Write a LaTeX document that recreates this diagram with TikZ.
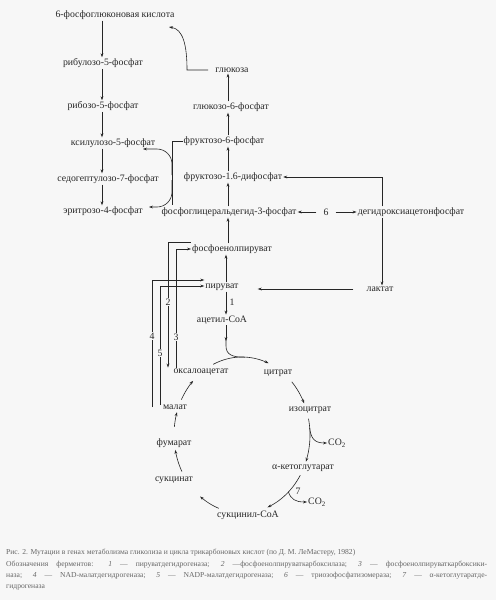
\documentclass[tikz,border=0pt]{standalone}
\usepackage{fontspec}
\setmainfont{Liberation Serif}
\usetikzlibrary{arrows.meta,calc}
\definecolor{ink}{HTML}{262626}
\definecolor{paper}{HTML}{F7F7F7}
\definecolor{capink}{HTML}{666666}
\begin{document}
\begin{tikzpicture}[x=1pt,y=-1pt,
  lbl/.style={font=\fontsize{9.8}{11}\selectfont, text=ink, inner sep=1pt},
  con/.style={draw=ink, line width=0.6pt},
  arr/.style={con, -{Stealth[length=4pt,width=2.8pt]}},
  num/.style={font=\fontsize{9.8}{11}\selectfont, text=ink, fill=paper, inner sep=0.6pt},
  captxt/.style={font=\fontsize{7.6}{9}\selectfont, text=capink, anchor=west, inner sep=0pt}]
\fill[paper] (0,0) rectangle (496,600);
\useasboundingbox (0,0) rectangle (496,600);
% column coordinates
\coordinate (cA) at (102,0);
\coordinate (cB) at (228,0);
\coordinate (cC) at (226,0);
\coordinate (cD) at (382,0);
% pentose phosphate branch
\node[lbl] (pg)   at (115,15)  {6-фосфоглюконовая кислота};
\node[lbl] (ru5p) at (103,63)  {рибулозо-5-фосфат};
\node[lbl] (r5p)  at (103,106) {рибозо-5-фосфат};
\node[lbl] (x5p)  at (113,143) {ксилулозо-5-фосфат};
\node[lbl] (s7p)  at (108,179) {седогептулозо-7-фосфат};
\node[lbl] (e4p)  at (103,211) {эритрозо-4-фосфат};
% glycolysis column
\node[lbl] (glc)  at (232,70)  {глюкоза};
\node[lbl] (g6p)  at (231,107) {глюкозо-6-фосфат};
\node[lbl] (f6p)  at (224,141) {фруктозо-6-фосфат};
\node[lbl] (fbp)  at (233,177) {фруктозо-1.6-дифосфат};
\node[lbl] (gap)  at (229,212) {фосфоглицеральдегид-3-фосфат};
\node[lbl] (six)  at (326,212) {6};
\node[lbl] (dhap) at (411,212) {дегидроксиацетонфосфат};
\node[lbl] (pep)  at (232,249) {фосфоенолпируват};
\node[lbl] (pyr)  at (222,287) {пируват};
\node[lbl] (lac)  at (380,289) {лактат};
\node[lbl] (acoa) at (222,320) {ацетил-СоА};
% TCA cycle
\node[lbl] (oaa)  at (201,372) {оксалоацетат};
\node[lbl] (cit)  at (278,373) {цитрат};
\node[lbl] (icit) at (310,410) {изоцитрат};
\node[lbl] (co2a) at (337,443) {CO\textsubscript{2}};
\node[lbl] (akg)  at (303,468) {α-кетоглутарат};
\node[lbl] (co2b) at (317,502) {CO\textsubscript{2}};
\node[lbl] (scoa) at (248,515) {сукцинил-СоА};
\node[lbl] (succ) at (174,480) {сукцинат};
\node[lbl] (fum)  at (174,443) {фумарат};
\node[lbl] (mal)  at (175,407) {малат};

% pentose phosphate arrows
\draw[arr] (pg.south -| cA) -- (ru5p.north -| cA);
\draw[arr] (ru5p.south -| cA) -- (r5p.north -| cA);
\draw[arr] (r5p.south -| cA) -- (x5p.north -| cA);
\draw[arr] (x5p.south -| cA) -- (s7p.north -| cA);
\draw[arr] (s7p.south -| cA) -- (e4p.north -| cA);
% glucose -> 6-phosphogluconate
\draw[arr] ([xshift=-6pt]glc.west) -- (187,70) .. controls (187,45) and (183,29) .. (169,27);
% glycolysis column
\draw[arr] (g6p.north -| cB) -- (glc.south -| cB);
\draw[arr] (f6p.north -| cB) -- (g6p.south -| cB);
\draw[arr] (fbp.north -| cB) -- (f6p.south -| cB);
\draw[arr] (gap.north -| cB) -- (fbp.south -| cB);
\draw[arr] (pep.north -| cB) -- (gap.south -| cB);
\draw[arr] (pyr.north -| cC) -- (pep.south -| cC);
\draw[arr] (pyr.south -| cC) -- (acoa.north -| cC);
\node[num, fill=none] (one) at (232,302) {1};
% transketolase bracket
\draw[con] (f6p.west) -| (172,205);
\draw[arr, rounded corners=15pt] (172,175) -- (172,149) -- (143,149);
\draw[arr, rounded corners=15pt] (172,180) -- (172,207) -- (149,207);
% triose phosphate isomerase
\draw[arr] ([xshift=-6pt]six.west) -- (gap.east);
\draw[arr] ([xshift=6pt]six.east) -- (dhap.west);
\draw[arr] (dhap.north -| cD) |- (fbp.east);
\draw[arr] (dhap.south -| cD) -- (lac.north -| cD);
\draw[arr, shorten >=18pt, shorten <=12pt] (lac.west) -- (pyr.east |- lac.west);
% anaplerotic lines
\draw[arr] (pep.west |- 0,242) -| (oaa.north -| 168,0);
\draw[arr] (oaa.north -| 176,0) |- (pep.west);
\draw[arr] (mal.west -| 152,0) |- (pyr.west |- 0,280);
\draw[arr] ([yshift=2pt]mal.west -| 160,0) |- (pyr.west |- 0,286);
\node[num] (two)   at (168,302) {2};
\node[num] (three) at (176,337) {3};
\node[num] (four)  at (152,336) {4};
\node[num] (five)  at (160,353) {5};
% acetyl-CoA entering the cycle
\draw[arr] (acoa.south -| cC) -- (226,341);
\draw[con] (226,339) -- (226,346) .. controls (226,355) and (233,357.3) .. (245,357.2);
% cycle arcs
\draw[arr] plot[domain=207:224, samples=20] ({242+68*cos(\x)}, {435+78*sin(\x)});
\draw[arr] plot[domain=245:293, samples=30] ({242+68*cos(\x)}, {435+78*sin(\x)});
\draw[arr] plot[domain=317:336, samples=20] ({242+68*cos(\x)}, {435+78*sin(\x)});
\draw[arr] plot[domain=348:380, samples=20] ({242+68*cos(\x)}, {435+78*sin(\x)});
\draw[arr] plot[domain=31:68, samples=25] ({242+68*cos(\x)}, {435+78*sin(\x)});
\draw[arr] plot[domain=110:128, samples=20] ({242+68*cos(\x)}, {435+78*sin(\x)});
\draw[arr] plot[domain=152:169, samples=20] ({242+68*cos(\x)}, {435+78*sin(\x)});
\draw[arr] plot[domain=186:197, samples=15] ({242+68*cos(\x)}, {435+78*sin(\x)});
% CO2 branches
\draw[arr] (309.7,428.2) .. controls (311,438) and (314,443) .. (co2a.west);
\draw[arr] (288.4,492.0) .. controls (291,499) and (295,502) .. (co2b.west);
\node[num, fill=none] (seven) at (298,491) {7};
% caption
\node[captxt] (cap1) at (6,553) {Рис. 2. Мутации в генах метаболизма гликолиза и цикла трикарбоновых кислот (по Д. М. ЛеМастеру, 1982)};
\node[captxt] (cap2) at (6,564.5) {\makebox[481pt][s]{Обозначения ферментов: \textit{1} — пируватдегидрогеназа; \textit{2} —фосфоенолпируваткарбоксилаза; \textit{3} — фосфоенолпируваткарбоксики-}};
\node[captxt] (cap3) at (6,576) {\makebox[481pt][s]{наза; \textit{4} — NAD-малатдегидрогеназа; \textit{5} — NADP-малатдегидрогеназа; \textit{6} — триозофосфатизомераза; \textit{7} — α-кетоглутаратде-}};
\node[captxt] (cap4) at (6,587.5) {гидрогеназа};
\end{tikzpicture}
\end{document}
